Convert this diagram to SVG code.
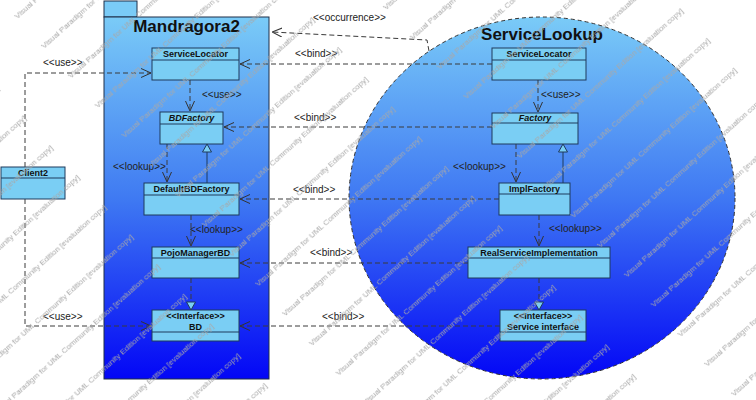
<svg xmlns="http://www.w3.org/2000/svg" width="756" height="400" viewBox="0 0 756 400">
<defs>
<style>
.cls{fill:#7acef4;stroke:#1e3a5c;stroke-width:1}
.nm{font-family:"Liberation Sans",Arial,sans-serif;font-size:9px;font-weight:bold;fill:#111;text-anchor:middle}
.it{font-style:italic}
.lbl{font-family:"Liberation Sans",Arial,sans-serif;font-size:10px;fill:#222}
.dash{fill:none;stroke:#3a3a3a;stroke-width:1;stroke-dasharray:5,3}
.dep{marker-end:url(#open)}
.solid{fill:none;stroke:#1e3a5c;stroke-width:1}
.title{font-family:"Liberation Sans",Arial,sans-serif;font-size:17px;font-weight:bold;fill:#111;text-anchor:middle}
.wm{font-family:"Liberation Sans",Arial,sans-serif;font-size:8px;fill:#a8a8a8}
</style>
<linearGradient id="pkgGrad" x1="0" y1="0" x2="0" y2="1">
<stop offset="0" stop-color="#7acbf7"/>
<stop offset="0.5" stop-color="#3f7af2"/>
<stop offset="1" stop-color="#0306f6"/>
</linearGradient>
<linearGradient id="circGrad" x1="0" y1="0" x2="0" y2="1">
<stop offset="0" stop-color="#7acbf7"/>
<stop offset="0.5" stop-color="#3f78f3"/>
<stop offset="1" stop-color="#0306f6"/>
</linearGradient>
<marker id="open" viewBox="0 0 10 10" refX="10" refY="5" markerWidth="10" markerHeight="10" markerUnits="userSpaceOnUse" orient="auto">
<path d="M0,0.5 L10,5 L0,9.5" fill="none" stroke="#333" stroke-width="1"/>
</marker>
<pattern id="wmPat" patternUnits="userSpaceOnUse" width="280" height="40" patternTransform="rotate(-42)">
<text class="wm" x="0" y="26">Visual Paradigm for UML Community Edition [evaluation copy]</text>
</pattern>
</defs>
<rect width="756" height="400" fill="#fff"/>

<g id="Mandragora2">
<rect x="104" y="1" width="33" height="16" fill="#7acbf7" stroke="#1e2e48" stroke-width="1"/>
<rect x="104" y="17" width="165" height="362" fill="url(#pkgGrad)" stroke="#1e2e48" stroke-width="1"/>
<text class="title" x="186.5" y="32">Mandragora2</text>
</g>

<g id="ServiceLookup">
<ellipse cx="542" cy="198" rx="193" ry="181" fill="url(#circGrad)" stroke="#333" stroke-width="1" stroke-dasharray="4,3"/>
<text class="title" x="542" y="40">ServiceLookup</text>
</g>

<g id="connectors">
<path class="dash dep" d="M429,51 L427,40 L272,32"/>
<path class="dash dep" d="M492,64 L240,64"/>
<path class="dash dep" d="M492,127 L224,127"/>
<path class="dash dep" d="M499,199 L240,199"/>
<path class="dash dep" d="M468,263 L240,263"/>
<path class="dash dep" d="M500,326 L240,326"/>
<path class="dash dep" d="M25,167 L25,73 L151,73"/>
<path class="dash dep" d="M25,199 L25,326 L151,326"/>
<path class="dash dep" d="M190,80 L190,111"/>
<path class="dash dep" d="M167,144 L167,182"/>
<path class="dash dep" d="M191,215 L191,246"/>
<path class="dash" d="M191,278 L191,302"/>
<path class="solid" d="M207,183 L207,152"/>
<path class="dash dep" d="M538,80 L538,112"/>
<path class="dash dep" d="M516,144 L516,182"/>
<path class="dash dep" d="M539,215 L539,246"/>
<path class="dash" d="M539,278 L539,302"/>
<path class="solid" d="M563,183 L563,152"/>
<path d="M207,144 L202.5,152 L211.5,152 Z" class="cls"/>
<path d="M563,144 L558.5,152 L567.5,152 Z" class="cls"/>
<path d="M191,310 L186.5,302 L195.5,302 Z" class="cls"/>
<path d="M539,310 L534.5,302 L543.5,302 Z" class="cls"/>
<text class="lbl" x="313" y="20.5">&lt;&lt;occurrence&gt;&gt;</text>
<text class="lbl" x="295" y="56.5">&lt;&lt;bind&gt;&gt;</text>
<text class="lbl" x="294" y="121">&lt;&lt;bind&gt;&gt;</text>
<text class="lbl" x="293" y="192.5">&lt;&lt;bind&gt;&gt;</text>
<text class="lbl" x="310" y="255.5">&lt;&lt;bind&gt;&gt;</text>
<text class="lbl" x="322" y="319.5">&lt;&lt;bind&gt;&gt;</text>
<text class="lbl" x="43" y="65.5">&lt;&lt;use&gt;&gt;</text>
<text class="lbl" x="43" y="319.5">&lt;&lt;use&gt;&gt;</text>
<text class="lbl" x="202" y="98">&lt;&lt;use&gt;&gt;</text>
<text class="lbl" x="113" y="169.5">&lt;&lt;lookup&gt;&gt;</text>
<text class="lbl" x="190" y="232.5">&lt;&lt;lookup&gt;&gt;</text>
<text class="lbl" x="541" y="98">&lt;&lt;use&gt;&gt;</text>
<text class="lbl" x="453" y="169.5">&lt;&lt;lookup&gt;&gt;</text>
<text class="lbl" x="549" y="231.5">&lt;&lt;lookup&gt;&gt;</text>
</g>

<g id="Client2">
<rect class="cls" x="1" y="167" width="64" height="32"/>
<line class="solid" x1="1" y1="178" x2="65" y2="178"/>
<text class="nm" x="33" y="176">Client2</text>
</g>

<g id="M_ServiceLocator">
<rect class="cls" x="152" y="48" width="87" height="32"/>
<line class="solid" x1="152" y1="60" x2="239" y2="60"/>
<text class="nm" x="195.5" y="57">ServiceLocator</text>
</g>
<g id="BDFactory">
<rect class="cls" x="160" y="112" width="63" height="32"/>
<line class="solid" x1="160" y1="124" x2="223" y2="124"/>
<text class="nm it" x="191.5" y="121">BDFactory</text>
</g>
<g id="DefaultBDFactory">
<rect class="cls" x="144" y="183" width="95" height="32"/>
<line class="solid" x1="144" y1="195" x2="239" y2="195"/>
<text class="nm" x="191.5" y="192">DefaultBDFactory</text>
</g>
<g id="PojoManagerBD">
<rect class="cls" x="152" y="247" width="87" height="31"/>
<line class="solid" x1="152" y1="258" x2="239" y2="258"/>
<text class="nm" x="195.5" y="256">PojoManagerBD</text>
</g>
<g id="BD">
<rect class="cls" x="152" y="310" width="87" height="31"/>
<line class="solid" x1="152" y1="332" x2="239" y2="332"/>
<text class="nm" x="195.5" y="319">&lt;&lt;Interface&gt;&gt;</text>
<text class="nm" x="195.5" y="329.5">BD</text>
</g>

<g id="S_ServiceLocator">
<rect class="cls" x="492" y="48" width="94" height="32"/>
<line class="solid" x1="492" y1="60" x2="586" y2="60"/>
<text class="nm" x="539" y="57">ServiceLocator</text>
</g>
<g id="Factory">
<rect class="cls" x="492" y="113" width="86" height="31"/>
<line class="solid" x1="492" y1="123" x2="578" y2="123"/>
<text class="nm it" x="535" y="121">Factory</text>
</g>
<g id="ImplFactory">
<rect class="cls" x="499" y="183" width="71" height="32"/>
<line class="solid" x1="499" y1="194" x2="570" y2="194"/>
<text class="nm" x="534.5" y="192">ImplFactory</text>
</g>
<g id="RealServiceImplementation">
<rect class="cls" x="468" y="247" width="142" height="31"/>
<line class="solid" x1="468" y1="258" x2="610" y2="258"/>
<text class="nm" x="539" y="256">RealServiceImplementation</text>
</g>
<g id="ServiceInterface">
<rect class="cls" x="500" y="310" width="86" height="31"/>
<line class="solid" x1="500" y1="332" x2="586" y2="332"/>
<text class="nm" x="543" y="319">&lt;&lt;Interface&gt;&gt;</text>
<text class="nm" x="543" y="329.5">Service interface</text>
</g>

<rect id="watermark" x="0" y="0" width="756" height="400" fill="url(#wmPat)" pointer-events="none"/>
</svg>
